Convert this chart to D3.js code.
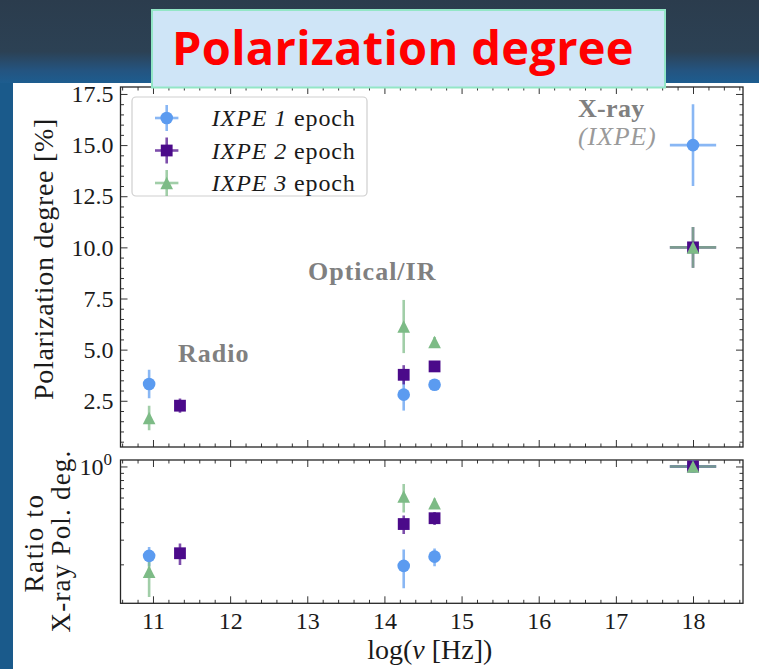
<!DOCTYPE html>
<html>
<head>
<meta charset="utf-8">
<script src="https://cdn.jsdelivr.net/npm/d3@7"></script>
<style>
  html, body { margin: 0; padding: 0; background: #ffffff; }
  svg { display: block; }
</style>
</head>
<body>
<svg id="chart" width="759" height="669"></svg>
<script>
// ---- Data: log10 frequency [Hz], polarization degree [%], ratio to X-ray polarization ----
const epoch1Freq     = [10.95, 14.25, 14.65, 18.0];
const epoch1FreqErr  = [0, 0, 0, 0.3];
const epoch1Pol      = [3.32, 2.8, 3.28, 15.0];
const epoch1PolErr   = [0.7, 0.78, 0.25, 2.0];
const epoch1Ratio    = [0.23, 0.195, 0.227, 1.0];
const epoch1RatioErr = [0.036, 0.06, 0.033, 0];

const epoch2Freq     = [11.35, 14.25, 14.65, 18.0];
const epoch2FreqErr  = [0, 0, 0, 0.3];
const epoch2Pol      = [2.26, 3.77, 4.18, 10.0];
const epoch2PolErr   = [0.35, 0.47, 0.25, 1.0];
const epoch2Ratio    = [0.24, 0.388, 0.427, 1.0];
const epoch2RatioErr = [0.042, 0.058, 0.045, 0];

const epoch3Freq     = [10.95, 14.25, 14.65, 18.0];
const epoch3FreqErr  = [0, 0, 0, 0.3];
const epoch3Pol      = [1.66, 6.13, 5.37, 10.0];
const epoch3PolErr   = [0.6, 1.3, 0.25, 1.0];
const epoch3Ratio    = [0.177, 0.61, 0.546, 1.0];
const epoch3RatioErr = [0.06, 0.14, 0.045, 0];

const epochNames  = ["1", "2", "3"];
const xTicks      = [11, 12, 13, 14, 15, 16, 17, 18];
const polTicks    = [2.5, 5.0, 7.5, 10.0, 12.5, 15.0, 17.5];
const ratioTicks  = [1];
const ratioMinor  = [0.2, 0.3, 0.4, 0.5, 0.6, 0.7, 0.8, 0.9];

const bandLabels  = ["Radio", "Optical/IR", "X-ray"];
const bandSub     = "(IXPE)";

// ---- Styling ----
const colors = ["#5b9bf0", "#4b0a8a", "#7dbb86"];
const shapes = ["circle", "square", "triangle"];
const serif  = "'Liberation Serif', 'Times New Roman', serif";

const series = [
  { freq: epoch1Freq, fErr: epoch1FreqErr, pol: epoch1Pol, pErr: epoch1PolErr, ratio: epoch1Ratio, rErr: epoch1RatioErr },
  { freq: epoch2Freq, fErr: epoch2FreqErr, pol: epoch2Pol, pErr: epoch2PolErr, ratio: epoch2Ratio, rErr: epoch2RatioErr },
  { freq: epoch3Freq, fErr: epoch3FreqErr, pol: epoch3Pol, pErr: epoch3PolErr, ratio: epoch3Ratio, rErr: epoch3RatioErr }
].map((s, i) => Object.assign(s, { name: epochNames[i], color: colors[i], shape: shapes[i] }));

const svg = d3.select("#chart");

// ---- Slide background ----
const defs = svg.append("defs");
const bg = defs.append("linearGradient").attr("id", "bgGrad")
  .attr("x1", 0).attr("y1", 0).attr("x2", 0).attr("y2", 1);
bg.append("stop").attr("offset", "0%").attr("stop-color", "#2b3c4d");
bg.append("stop").attr("offset", "60%").attr("stop-color", "#2c4154");
bg.append("stop").attr("offset", "82%").attr("stop-color", "#245480");
bg.append("stop").attr("offset", "100%").attr("stop-color", "#1b5f93");
svg.append("rect").attr("x", 0).attr("y", 0).attr("width", 759).attr("height", 86).attr("fill", "url(#bgGrad)");
svg.append("rect").attr("x", 0).attr("y", 83).attr("width", 13).attr("height", 586).attr("fill", "#1a5a8b");
svg.append("rect").attr("x", 13).attr("y", 83).attr("width", 746).attr("height", 586).attr("fill", "#ffffff");

// ---- Geometry and scales ----
const plotL = 120.5, plotR = 743;
const topT = 87, topB = 447, botT = 460, botB = 603.3;

const x = d3.scaleLinear().domain([10.579, 18.648]).range([plotL, plotR]);
const yPol = d3.scaleLinear().domain([0.24, 17.84]).range([topB, topT]);
const yRatio = d3.scaleLog().domain([0.1054, 1.112]).range([botB, botT]);

const xMinor = d3.range(10.6, 18.65, 0.2).map(v => +v.toFixed(1)).filter(v => !xTicks.includes(v));
const polMinor = d3.range(0.5, 17.84, 0.5).filter(v => !polTicks.includes(v));

const tickColor = "#333333";
function styleAxis(g) {
  g.select(".domain").remove();
  g.selectAll(".tick line").attr("stroke", tickColor).attr("stroke-width", 1);
  g.selectAll(".tick text").attr("font-family", serif).attr("font-size", 24).attr("fill", "#1a1a1a");
}
function ticks(axisGen, scale, values, size, translate, labels, pad) {
  const a = axisGen(scale).tickValues(values).tickSize(size).tickPadding(pad || 7);
  if (!labels) a.tickFormat("");
  else a.tickFormat(labels);
  const g = svg.append("g").attr("transform", translate).call(a);
  styleAxis(g);
  return g;
}

// Upper panel ticks (inward on all four sides)
ticks(d3.axisBottom, x, xTicks, -7, `translate(0,${topB})`);
ticks(d3.axisBottom, x, xMinor, -3.5, `translate(0,${topB})`);
ticks(d3.axisTop, x, xTicks, -7, `translate(0,${topT})`);
ticks(d3.axisTop, x, xMinor, -3.5, `translate(0,${topT})`);
ticks(d3.axisLeft, yPol, polTicks, -7, `translate(${plotL},0)`, d3.format(".1f"));
ticks(d3.axisLeft, yPol, polMinor, -3.5, `translate(${plotL},0)`);
ticks(d3.axisRight, yPol, polTicks, -7, `translate(${plotR},0)`);
ticks(d3.axisRight, yPol, polMinor, -3.5, `translate(${plotR},0)`);

// Lower panel ticks
ticks(d3.axisBottom, x, xTicks, -7, `translate(0,${botB})`, d3.format("d"), 8.7);
ticks(d3.axisBottom, x, xMinor, -3.5, `translate(0,${botB})`);
ticks(d3.axisTop, x, xTicks, -7, `translate(0,${botT})`);
ticks(d3.axisTop, x, xMinor, -3.5, `translate(0,${botT})`);
const ratioLeft = ticks(d3.axisLeft, yRatio, ratioTicks, -7, `translate(${plotL},0)`, () => "10", 8.5);
ticks(d3.axisLeft, yRatio, ratioMinor, -3.5, `translate(${plotL},0)`);
ticks(d3.axisRight, yRatio, ratioTicks, -7, `translate(${plotR},0)`);
ticks(d3.axisRight, yRatio, ratioMinor, -3.5, `translate(${plotR},0)`);
ratioLeft.selectAll(".tick text").append("tspan").attr("dy", "-0.55em").attr("font-size", 17).text("0");

// ---- Frames ----
[[topT, topB], [botT, botB]].forEach(([t, b]) => {
  svg.append("rect").attr("x", plotL).attr("y", t).attr("width", plotR - plotL).attr("height", b - t)
    .attr("fill", "none").attr("stroke", "#262626").attr("stroke-width", 1.3);
});

// ---- Clip regions ----
defs.append("clipPath").attr("id", "clipTop").append("rect")
  .attr("x", plotL).attr("y", topT).attr("width", plotR - plotL).attr("height", topB - topT);
defs.append("clipPath").attr("id", "clipBot").append("rect")
  .attr("x", plotL).attr("y", botT).attr("width", plotR - plotL).attr("height", botB - botT);

// ---- Markers ----
const mSize = 6.3;
function drawMarker(g, shape, cx, cy, color) {
  if (shape === "circle") {
    g.append("circle").attr("cx", cx).attr("cy", cy).attr("r", mSize).attr("fill", color);
  } else if (shape === "square") {
    g.append("rect").attr("x", cx - mSize + 0.4).attr("y", cy - mSize + 0.4)
      .attr("width", 2 * mSize - 0.8).attr("height", 2 * mSize - 0.8).attr("fill", color);
  } else {
    g.append("path")
      .attr("d", `M${cx},${cy - mSize} L${cx + mSize},${cy + mSize} L${cx - mSize},${cy + mSize} Z`)
      .attr("fill", color);
  }
}

function drawPanel(clipId, yScale, valKey, errKey) {
  const g = svg.append("g").attr("clip-path", `url(#${clipId})`);
  const bars = g.append("g");
  const marks = g.append("g");
  series.forEach(s => {
    s.freq.forEach((f, i) => {
      const v = s[valKey][i], e = s[errKey][i], fe = s.fErr[i];
      if (e > 0) {
        bars.append("line").attr("x1", x(f)).attr("x2", x(f))
          .attr("y1", yScale(v - e)).attr("y2", yScale(v + e))
          .attr("stroke", s.color).attr("stroke-width", 2.6).attr("stroke-opacity", 0.72);
      }
      if (fe > 0) {
        bars.append("line").attr("x1", x(f - fe)).attr("x2", x(f + fe))
          .attr("y1", yScale(v)).attr("y2", yScale(v))
          .attr("stroke", s.color).attr("stroke-width", 2.6).attr("stroke-opacity", 0.72);
      }
      drawMarker(marks, s.shape, x(f), yScale(v), s.color);
    });
  });
}
drawPanel("clipTop", yPol, "pol", "pErr");
drawPanel("clipBot", yRatio, "ratio", "rErr");

// ---- Band annotations ----
const annot = svg.append("g").attr("font-family", serif).attr("fill", "#808080");
annot.append("text").attr("x", x(11.324)).attr("y", yPol(4.4))
  .attr("font-size", 26).attr("font-weight", "bold").attr("letter-spacing", 1).text(bandLabels[0]);
annot.append("text").attr("x", x(13.01)).attr("y", yPol(8.4))
  .attr("font-size", 26).attr("font-weight", "bold").attr("letter-spacing", 1).text(bandLabels[1]);
annot.append("text").attr("x", x(16.51)).attr("y", yPol(16.36))
  .attr("font-size", 26).attr("font-weight", "bold").attr("letter-spacing", 0.3).text(bandLabels[2]);
annot.append("text").attr("x", x(16.51)).attr("y", yPol(14.99))
  .attr("font-size", 26).attr("font-style", "italic").attr("fill", "#9a9a9a").attr("letter-spacing", 0.8)
  .text(bandSub);

// ---- Legend ----
const leg = svg.append("g");
leg.append("rect").attr("x", 132).attr("y", 97).attr("width", 235).attr("height", 99).attr("rx", 4)
  .attr("fill", "#ffffff").attr("fill-opacity", 0.85).attr("stroke", "#cfcfcf").attr("stroke-width", 1.2);
series.forEach((s, i) => {
  const cy = 118 + i * 32.5, cx = 166.7;
  leg.append("line").attr("x1", cx).attr("x2", cx).attr("y1", cy - 13).attr("y2", cy + 13)
    .attr("stroke", s.color).attr("stroke-width", 2.6).attr("stroke-opacity", 0.72);
  leg.append("line").attr("x1", cx - 11.7).attr("x2", cx + 11.7).attr("y1", cy).attr("y2", cy)
    .attr("stroke", s.color).attr("stroke-width", 2.6).attr("stroke-opacity", 0.72);
  drawMarker(leg, s.shape, cx, cy, s.color);
  const t = leg.append("text").attr("x", 211.7).attr("y", cy + 8)
    .attr("font-family", serif).attr("font-size", 24).attr("letter-spacing", 0.9).attr("fill", "#1a1a1a");
  t.append("tspan").attr("font-style", "italic").text(`IXPE ${s.name}`);
  t.append("tspan").text(" epoch");
});

// ---- Axis titles ----
svg.append("text").attr("transform", "translate(53,259) rotate(-90)")
  .attr("text-anchor", "middle").attr("font-family", serif).attr("font-size", 28)
  .attr("letter-spacing", 0.7).attr("fill", "#1a1a1a").text("Polarization degree [%]");
svg.append("text").attr("transform", "translate(43,543) rotate(-90)")
  .attr("text-anchor", "middle").attr("font-family", serif).attr("font-size", 27)
  .attr("letter-spacing", 1.6).attr("fill", "#1a1a1a").text("Ratio to");
svg.append("text").attr("transform", "translate(70,541) rotate(-90)")
  .attr("text-anchor", "middle").attr("font-family", serif).attr("font-size", 27)
  .attr("letter-spacing", 1.2).attr("fill", "#1a1a1a").text("X-ray Pol. deg.");
const xl = svg.append("text").attr("x", (plotL + plotR) / 2 - 2).attr("y", 659)
  .attr("text-anchor", "middle").attr("font-family", serif).attr("font-size", 28).attr("fill", "#1a1a1a");
xl.append("tspan").text("log(");
xl.append("tspan").attr("font-style", "italic").text("ν");
xl.append("tspan").text(" [Hz])");

// ---- Slide title ----
svg.append("rect").attr("x", 152).attr("y", 10).attr("width", 513).attr("height", 77.5)
  .attr("fill", "#cfe5f7").attr("stroke", "#93e6c6").attr("stroke-width", 2);
svg.append("text").attr("x", 172).attr("y", 65)
  .attr("font-family", "'Open Sans', 'Noto Sans', sans-serif").attr("font-weight", "bold")
  .attr("font-size", 47).attr("letter-spacing", 0.3).attr("fill", "#ff0000").text("Polarization degree");
</script>
</body>
</html>
